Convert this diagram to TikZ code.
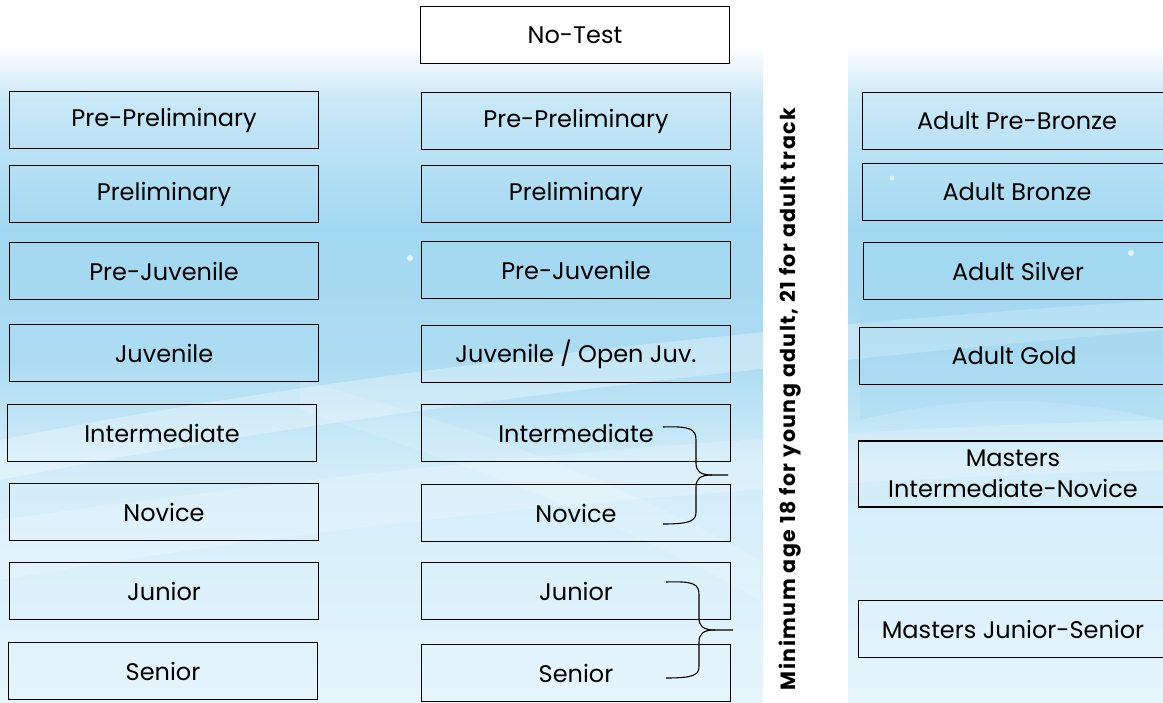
\documentclass[tikz,border=0pt]{standalone}
\usepackage{fontspec}
\setmainfont{Poppins}
\newfontfamily\notefont[LetterSpace=7]{Poppins}
\usetikzlibrary{calc}
\definecolor{skyA}{HTML}{C8E8F7}
\definecolor{skyB}{HTML}{A2D8F1}
\definecolor{skyC}{HTML}{ACDCF2}
\definecolor{skyD}{HTML}{D2EDF9}
\definecolor{skyE}{HTML}{E6F5FC}
\pgfdeclareverticalshading{skybg}{100bp}{color(0bp)=(skyE); color(25bp)=(skyE); color(41.6bp)=(skyD); color(49.4bp)=(skyC); color(58.6bp)=(skyB); color(67.8bp)=(skyA); color(71.8bp)=(white); color(100bp)=(white)}
\tikzset{
  lvl/.style={draw=black, line width=1.9pt, minimum width=309pt, minimum height=57pt,
    inner sep=0pt, align=center, font=\fontsize{24}{31}\selectfont},
  bracepath/.style={draw=black, line width=1.1pt},
}
\begin{document}
\begin{tikzpicture}[x=1pt, y=-1pt]
\useasboundingbox (0,0) rectangle (1163,703);
% sky background
\shade[shading=skybg] (0,0) rectangle (1163,703);
\begin{scope}
\clip (0,0) rectangle (1163,703);
% soft light swooshes
\fill[white, opacity=0.3] (0,440) .. controls (300,380) and (700,330) .. (1163,300)
  -- (1163,330) .. controls (700,370) and (300,420) .. (0,480) -- cycle;
\fill[white, opacity=0.22] (0,520) .. controls (350,470) and (750,430) .. (1163,420)
  -- (1163,470) .. controls (750,480) and (350,520) .. (0,580) -- cycle;
\fill[white, opacity=0.15] (300,380) .. controls (450,420) and (600,470) .. (760,560)
  -- (760,600) .. controls (600,510) and (450,460) .. (300,410) -- cycle;
\fill[skyB, opacity=0.35] (860,230) .. controls (980,220) and (1080,240) .. (1163,230)
  -- (1163,420) .. controls (1080,400) and (980,390) .. (860,420) -- cycle;
\fill[white, opacity=0.7] (410,258) circle (3pt);
\fill[white, opacity=0.7] (1131,253) circle (3pt);
\fill[white, opacity=0.5] (892,178) circle (2.5pt);
\end{scope}
% white band behind the vertical note
\fill[white] (763,23) rectangle (848,703);

% novice track
\node[lvl] (lPP) at (164,120) {Pre-Preliminary};
\node[lvl] (lP)  at (164,194) {Preliminary};
\node[lvl] (lPJ) at (164,271) {Pre-Juvenile};
\node[lvl] (lJ)  at (164,353) {Juvenile};
\node[lvl] (lI)  at (162,433) {Intermediate};
\node[lvl] (lN)  at (164,512) {Novice};
\node[lvl] (lJr) at (164,591) {Junior};
\node[lvl] (lS)  at (163,671) {Senior};

% standard track
\node[lvl, fill=white] (mNT) at (575,35) {No-Test};
\node[lvl] (mPP) at (576,121) {Pre-Preliminary};
\node[lvl] (mP)  at (576,194) {Preliminary};
\node[lvl] (mPJ) at (576,270) {Pre-Juvenile};
\node[lvl] (mJ)  at (576,354) {Juvenile / Open Juv.};
\node[lvl] (mI)  at (576,433) {Intermediate};
\node[lvl] (mN)  at (576,513) {Novice};
\node[lvl] (mJr) at (576,591) {Junior};
\node[lvl] (mS)  at (576,673) {Senior};

% adult track
\begin{scope}
\clip (0,0) rectangle (1163,703);
\node[lvl] (aPB) at (1017,121) {Adult Pre-Bronze};
\node[lvl] (aB)  at (1017,192) {Adult Bronze};
\node[lvl] (aS)  at (1018,271) {Adult Silver};
\node[lvl] (aG)  at (1014,356) {Adult Gold};
\node[lvl, minimum height=66pt] (aMIN) at (1013,474) {Masters\\Intermediate-Novice};
\node[lvl] (aMJS) at (1013,629) {Masters Junior-Senior};
\end{scope}

% vertical note
\node[rotate=90, font=\notefont\bfseries\fontsize{20.6}{23}\selectfont, inner sep=0pt] (note) at (790,399)
  {Minimum age 18 for young adult, 21 for adult track};

% braces grouping the senior-track levels
\coordinate (b1t) at (663,427);
\coordinate (b1b) at (663,524);
\coordinate (b1m) at (728,475);
\draw[bracepath] (b1t) .. controls (690,426) and (696,429) .. (696,440) -- (696,463)
  .. controls (696,471) and (700,475) .. (712,475) -- (b1m);
\draw[bracepath] (712,475) .. controls (700,475) and (696,479) .. (696,487) -- (696,512)
  .. controls (696,521) and (690,524) .. (b1b);
\coordinate (b2t) at (666,582);
\coordinate (b2b) at (666,678);
\coordinate (b2m) at (733,630);
\draw[bracepath] (b2t) .. controls (694,581) and (699,584) .. (699,595) -- (699,618)
  .. controls (699,626) and (703,630) .. (715,630) -- (b2m);
\draw[bracepath] (715,630) .. controls (703,630) and (699,634) .. (699,642) -- (699,666)
  .. controls (699,675) and (694,678) .. (b2b);
\end{tikzpicture}
\end{document}
